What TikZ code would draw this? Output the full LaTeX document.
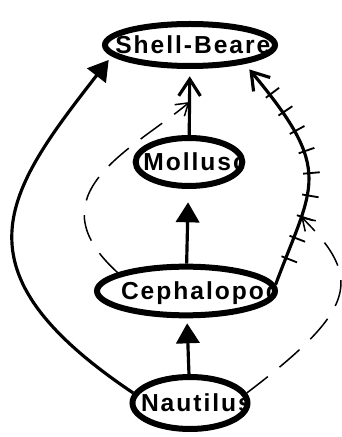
\documentclass[tikz,border=0pt]{standalone}
\usepackage{fontspec}
\newfontfamily\conceptfont{Liberation Sans}[LetterSpace=8]
\usetikzlibrary{arrows.meta, shapes.geometric, decorations.markings}

\begin{document}
\begin{tikzpicture}[x=0.3mm, y=0.3mm,
  concept/.style 2 args={draw, shape=ellipse, line width=1.8mm, inner sep=0pt,
    path picture={\node[shape=rectangle, draw=none, minimum width=0pt, minimum height=0pt,
      anchor=base west, inner sep=0pt,
      font=\conceptfont\bfseries\fontsize{21}{21}\selectfont]
      at ([xshift=#2, yshift=-2.6mm]path picture bounding box.center) {#1};}},
  isa/.style={line width=0.95mm, -{Triangle[length=6mm, width=7mm]}, shorten >=1.5mm},
  kind/.style={line width=0.95mm, -{Straight Barb[length=5mm, width=6.5mm]}, shorten >=2.2mm},
  link/.style={line width=0.45mm, dash pattern=on 8mm off 4.5mm,
    -{Straight Barb[length=3.5mm, width=4.5mm]}},
  hatched/.style={postaction={decorate}, decoration={markings,
    mark=between positions 0.117 and 0.84 step 0.09 with
      {\draw[-, line width=0.55mm] (0,-3.6mm) -- (0,3.6mm);}}}]
  \useasboundingbox (0,0) rectangle (342,437);
%---------------------------------------------------------------------------
  \node[concept={Shell-Bearer}{-23.3mm}, minimum width=51mm, minimum height=12.6mm] (sb) at (190,392) {};
  \node[concept={Mollusc}{-14.6mm}, minimum width=32mm, minimum height=14.4mm] (mo) at (189,275) {};
  \node[concept={Cephalopod}{-20.4mm}, minimum width=53.4mm, minimum height=14.6mm] (ce) at (186,146) {};
  \node[concept={Nautilus}{-15.6mm}, minimum width=34.5mm, minimum height=15.6mm] (na) at (190,34) {};
%---------------------------------------------------------------------------
  \draw[kind] (mo) -- (sb) coordinate[pos=0.5] (ms);
  \draw[isa, shorten >=4mm] (ce) -- (mo);
  \draw[isa] (na) -- (ce);
  \draw[isa] (na.170) .. controls (-50,167) and (5,244) .. (sb.188);
  \draw[kind, hatched] (ce.4) .. controls (313,253) and (335,265) .. (sb.-19) coordinate[pos=0.28] (cs);
%---------------------------------------------------------------------------
  \draw[link] (ce.165) .. controls (31,243) and (134,288) .. (ms);
  \draw[link] (na.10) .. controls (356,127) and (364,158) .. (cs);
\end{tikzpicture}
\end{document}
